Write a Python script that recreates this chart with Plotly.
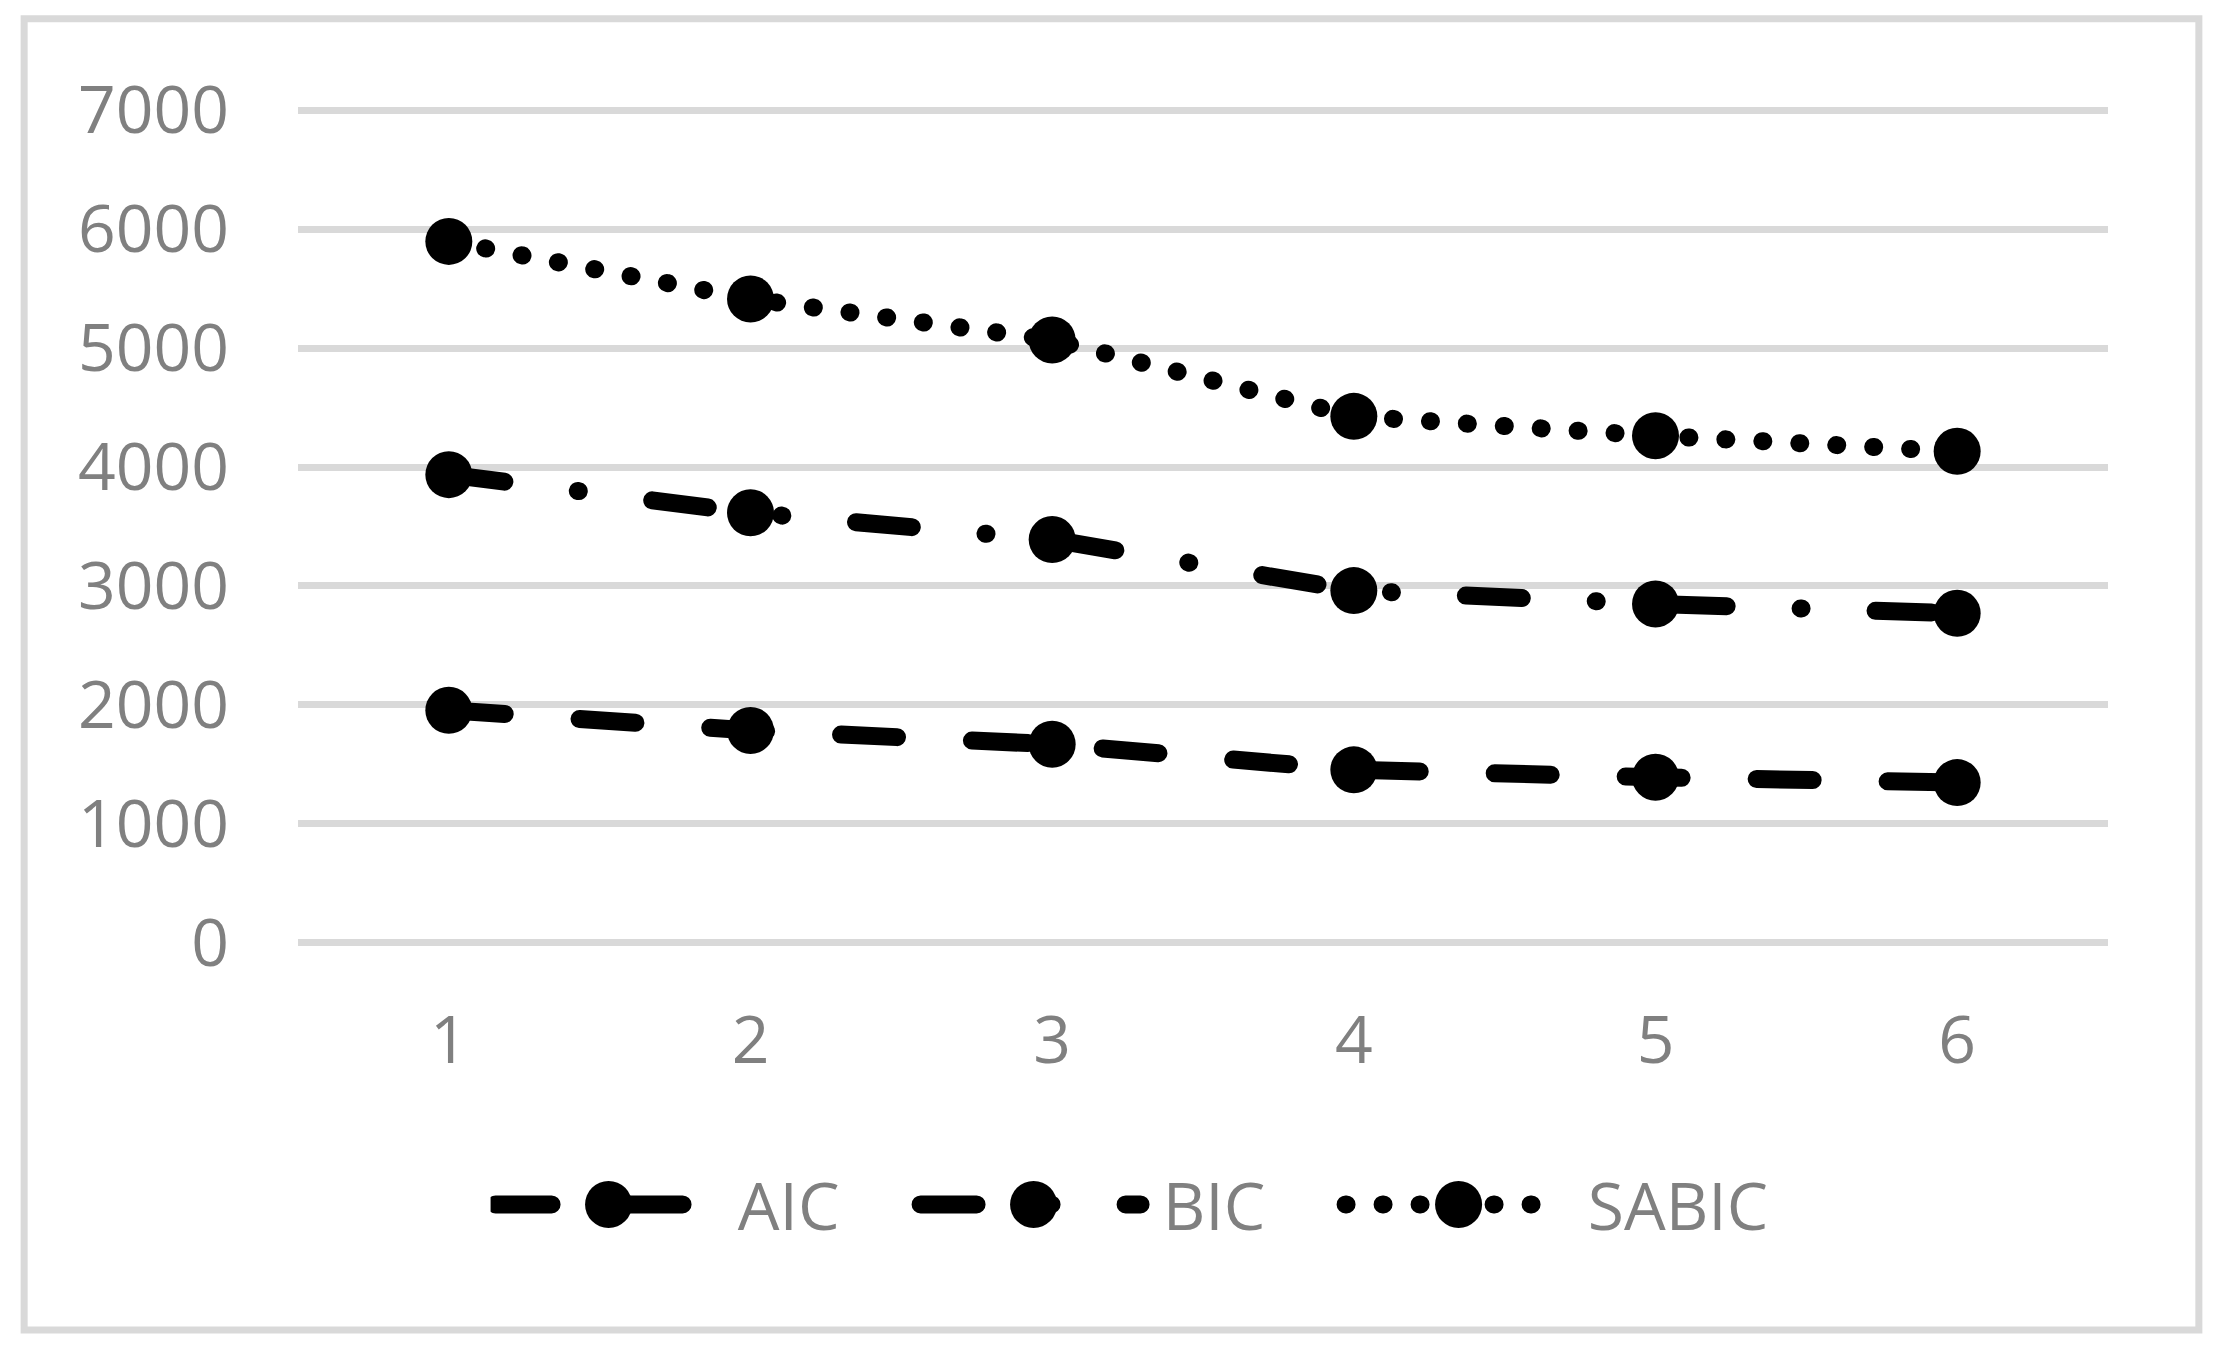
import plotly.graph_objects as go

categories = [1, 2, 3, 4, 5, 6]
tick_labels = ["1", "2", "3", "4", "5", "6"]
aic = [1955, 1785, 1670, 1454, 1392, 1347]
bic = [3936, 3615, 3390, 2961, 2849, 2770]
sabic = [5897, 5413, 5068, 4426, 4263, 4132]
y_ticks = [0, 1000, 2000, 3000, 4000, 5000, 6000, 7000]

# name, values, dash pattern (drawn with round caps, see post_script)
series = [
    ("AIC", aic, "56px,75px"),
    ("BIC", bic, "56px,74px,1px,74px"),
    ("SABIC", sabic, "1px,36px"),
]

GREY_TEXT = "#808080"
GRID = "#D9D9D9"
FONT = "Open Sans"
NBSP = "\u00a0"

fig = go.Figure()
for name, vals, dash in series:
    fig.add_trace(go.Scatter(
        x=categories,
        y=vals,
        name=NBSP + name,
        mode="lines+markers",
        line=dict(color="black", width=18, dash=dash),
        marker=dict(color="black", size=47, line=dict(width=0)),
        cliponaxis=False,
    ))

# chart-area frame
fig.add_shape(
    type="rect", xref="paper", yref="paper",
    x0=-0.1513, x1=1.0502, y0=-0.4622, y1=1.108,
    line=dict(color=GRID, width=7), layer="below",
)

fig.update_layout(
    width=2219,
    height=1350,
    margin=dict(l=298, r=111, t=109, b=406),
    paper_bgcolor="white",
    plot_bgcolor="white",
    font=dict(family=FONT, size=66, color=GREY_TEXT),
    showlegend=True,
    legend=dict(
        orientation="h",
        x=0.1064, xanchor="left",
        y=-0.312, yanchor="middle",
        itemwidth=220,
        entrywidth=190,
        font=dict(family=FONT, size=66, color=GREY_TEXT),
        bgcolor="rgba(0,0,0,0)",
    ),
)

fig.update_xaxes(
    range=[0.5, 6.5],
    tickmode="array",
    tickvals=categories,
    ticktext=tick_labels,
    showgrid=False,
    zeroline=False,
    showline=False,
    ticks="",
    ticklabelstandoff=52,
)
fig.update_yaxes(
    range=[-10, 7010],
    tickmode="array",
    tickvals=y_ticks,
    showgrid=True,
    gridcolor=GRID,
    gridwidth=7,
    zeroline=True,
    zerolinecolor=GRID,
    zerolinewidth=7,
    showline=False,
    ticks="",
    ticklabelstandoff=68,
)

post = """
document.body.style.margin = '0';
var gd = document.getElementById('{plot_id}');
function tweak() {
  gd.querySelectorAll('.js-line').forEach(function(p){ p.style.strokeLinecap = 'round'; });
  gd.querySelectorAll('.legend .js-line').forEach(function(p){ p.style.strokeWidth = '18px'; });
  gd.querySelectorAll('.legend path.scatterpts').forEach(function(p){
    var t = p.getAttribute('transform') || '';
    if (t.indexOf('scale') < 0) p.setAttribute('transform', t + ' translate(3,0) scale(2.94)');
  });
}
tweak();
gd.on('plotly_afterplot', tweak);
"""

fig.write_html("out.html", post_script=post, config={"displayModeBar": False})
